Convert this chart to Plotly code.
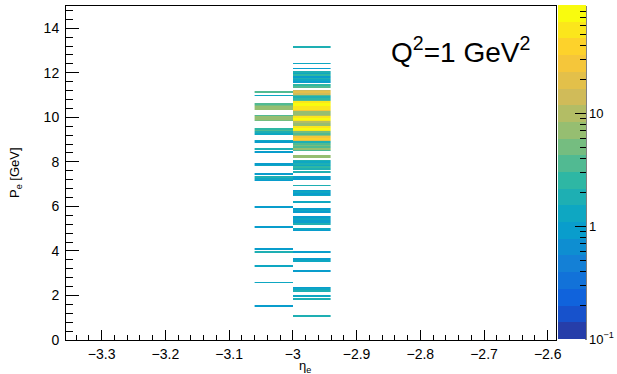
import numpy as np
import plotly.graph_objects as go

# ---------------- data ----------------
eta_centers = [-3.03, -2.97]          # eta bin centres (bin width 0.06)
p_bin = 0.075                          # momentum bin width [GeV]
n_pbins = 200                          # 0 .. 15 GeV

# left eta bin (-3.06 .. -3.00): momentum bin positions and contents
p_left = [11.1, 10.95, 10.575, 10.5, 10.425, 10.35, 10.05, 9.975, 9.9, 9.825,
          9.45, 9.375, 9.3, 9.225, 8.925, 8.85, 8.55, 8.4, 7.875, 7.8,
          7.425, 7.275, 7.2, 7.125, 5.925, 5.025, 4.05, 3.95, 3.3, 2.55, 1.5]
w_left = [3, 1.2, 4, 5, 7, 8, 3, 7, 8, 5,
          2.5, 3, 2, 1.5, 1.2, 1, 2, 1, 1, 1.1,
          1, 2, 1.5, 1, 1, 1, 1, 2, 1.5, 1.5, 1]

# right eta bin (-3.00 .. -2.94)
p_right = [13.15, 12.4, 12.15, 12.0, 11.925, 11.85, 11.775, 11.7, 11.625, 11.55,
           11.4, 11.325, 11.175, 11.1, 11.025, 10.95, 10.875, 10.8, 10.725, 10.65,
           10.575, 10.5, 10.425, 10.35, 10.275, 10.2, 10.125, 10.05, 9.975, 9.9,
           9.825, 9.75, 9.675, 9.6, 9.525, 9.45, 9.375, 9.3, 9.225, 9.15,
           9.075, 9.0, 8.925, 8.85, 8.775, 8.7, 8.625, 8.55, 8.475, 8.25,
           8.175, 8.025, 7.95, 7.875, 7.8, 7.725, 7.65, 7.5, 7.275, 7.2,
           6.9, 6.7, 6.625, 6.55, 6.45, 6.2, 5.875, 5.8, 5.725, 5.475,
           5.4, 5.325, 5.25, 5.175, 4.95, 4.875, 3.9, 3.6, 3.525, 3.075,
           2.325, 2.25, 2.175, 1.975, 1.8, 1.05]
w_right = [1.8, 1.2, 1.0, 2.0, 1.2, 2.5, 1.0, 2.0, 1.5, 0.9,
           2.2, 3.0, 14, 20, 12, 3, 2, 2.5, 4, 50,
           65, 75, 60, 50, 30, 8, 6, 10, 55, 85,
           60, 10, 6, 8, 50, 70, 55, 5, 3, 6,
           25, 35, 18, 2, 3, 5, 4, 6, 3, 8,
           7, 2, 1.2, 2, 1.5, 2.5, 2, 2, 1, 0.8,
           2, 1, 1.2, 1, 1.1, 1.2, 1, 1.1, 1, 1,
           1.2, 1, 1, 2, 1.1, 1, 0.8, 1, 1.2, 1,
           0.8, 1.5, 2, 1.5, 2, 2]

z_min, z_max = 0.1, 90.0
cbar_major = [0.1, 1, 10]
cbar_major_text = ["10<sup>\u22121</sup>", "1", "10"]
cbar_minor = [0.2, 0.3, 0.4, 0.5, 0.6, 0.7, 0.8, 0.9,
              2, 3, 4, 5, 6, 7, 8, 9,
              20, 30, 40, 50, 60, 70, 80]

# ---------------- histogram table ----------------
z = np.full((n_pbins, 2), np.nan)
for col, (ps, ws) in enumerate([(p_left, w_left), (p_right, w_right)]):
    for p, w in zip(ps, ws):
        i = int(np.floor(p / p_bin + 1e-6))
        z[i, col] = w
y_centers = (np.arange(n_pbins) + 0.5) * p_bin
zlog = np.log10(z)

# ---------------- ROOT kBird palette, 20 contour levels ----------------
stops = [0, .125, .25, .375, .5, .625, .75, .875, 1]
red = [0.2082, 0.0592, 0.0780, 0.0232, 0.1802, 0.5301, 0.8186, 0.9956, 0.9764]
green = [0.1664, 0.3599, 0.5041, 0.6419, 0.7178, 0.7492, 0.7328, 0.7862, 0.9832]
blue = [0.5293, 0.8684, 0.8385, 0.7914, 0.6425, 0.4662, 0.3499, 0.1968, 0.0539]
ndiv = 20
cscale = []
for i in range(ndiv):
    f = min((i + 0.99) / ndiv, 1.0)
    r = np.interp(f, stops, red)
    g = np.interp(f, stops, green)
    b = np.interp(f, stops, blue)
    c = "rgb(%d,%d,%d)" % (round(r * 255), round(g * 255), round(b * 255))
    cscale.append([i / ndiv, c])
    cscale.append([(i + 1) / ndiv, c])

FONT = "Liberation Sans, Arial, Helvetica, sans-serif"

plot_l, plot_r, plot_t, plot_b = 66, 556, 6, 340
W, H = 617, 374
pw = plot_r - plot_l
ph = plot_b - plot_t

cb_common = dict(thickness=28, thicknessmode="pixels",
                 len=ph, lenmode="pixels",
                 xref="container", x=(plot_r + 2) / W, xanchor="left", xpad=0,
                 yref="container", y=1 - plot_t / H, yanchor="top", ypad=0,
                 outlinewidth=0, tickmode="array", ticks="inside", tickcolor="black",
                 tickwidth=1, tickfont=dict(family=FONT, size=13, color="black"))

fig = go.Figure()
fig.add_trace(go.Heatmap(
    x=eta_centers, y=y_centers, z=zlog,
    zmin=np.log10(z_min), zmax=np.log10(z_max),
    colorscale=cscale, hoverongaps=False,
    colorbar=dict(cb_common, tickvals=list(np.log10(cbar_major)),
                  ticktext=cbar_major_text, ticklen=11),
))
fig.add_trace(go.Heatmap(
    x=eta_centers, y=y_centers, z=zlog,
    zmin=np.log10(z_min), zmax=np.log10(z_max),
    colorscale=[[0, "rgba(0,0,0,0)"], [1, "rgba(0,0,0,0)"]], hoverinfo="skip",
    colorbar=dict(cb_common, tickvals=list(np.log10(cbar_minor)),
                  showticklabels=False, ticklen=6),
))

axis_common = dict(showline=True, linecolor="black", linewidth=1, mirror=True,
                   showgrid=False, zeroline=False, ticks="inside", tickcolor="black",
                   automargin=False,
                   tickfont=dict(family=FONT, size=14, color="black"))

fig.update_xaxes(axis_common, range=[-3.356, -2.587], tick0=0, dtick=0.1, ticklen=10,
                 ticklabelstandoff=1,
                 minor=dict(ticks="inside", dtick=0.02, ticklen=5, tickcolor="black"))
fig.update_yaxes(axis_common, range=[0, 15], tick0=0, dtick=2, ticklen=13,
                 ticklabelstandoff=3,
                 minor=dict(ticks="inside", dtick=0.4, ticklen=7, tickcolor="black"))

fig.add_shape(type="line", xref="paper", yref="paper",
              x0=1 + 30 / pw, x1=1 + 30 / pw, y0=0, y1=1,
              line=dict(color="black", width=1))

fig.add_annotation(text="Q<sup>2</sup>=1 GeV<sup>2</sup>", xref="paper", yref="paper",
                   x=(460 - plot_l) / pw, y=(plot_b - 50) / ph, showarrow=False,
                   xanchor="center", yanchor="middle",
                   font=dict(family=FONT, size=28, color="black"))
fig.add_annotation(text="P<sub>e</sub> [GeV]", xref="paper", yref="paper",
                   x=(15 - plot_l) / pw, y=0.5, textangle=-90, showarrow=False,
                   xanchor="center", yanchor="middle",
                   font=dict(family=FONT, size=13, color="black"))
fig.add_annotation(text="\u03b7<sub>e</sub>", xref="paper", yref="paper",
                   x=(305 - plot_l) / pw, y=(plot_b - 366) / ph, showarrow=False,
                   xanchor="center", yanchor="middle",
                   font=dict(family=FONT, size=13, color="black"))

fig.update_layout(width=W, height=H, autosize=False,
                  margin=dict(l=plot_l, r=W - plot_r, t=plot_t, b=H - plot_b, pad=0),
                  paper_bgcolor="white", plot_bgcolor="white", showlegend=False)

fig.write_html("out.html")
